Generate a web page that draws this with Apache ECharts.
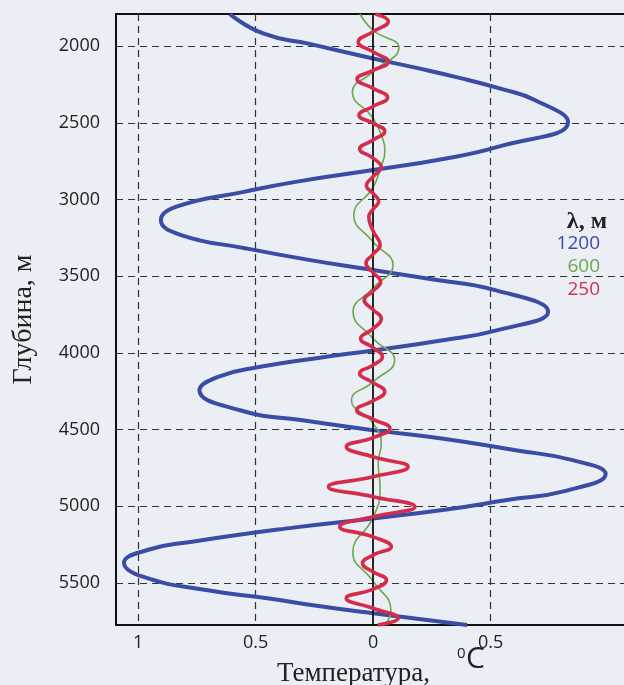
<!DOCTYPE html>
<html>
<head>
<meta charset="utf-8">
<script src="https://cdn.jsdelivr.net/npm/echarts@6/dist/echarts.min.js"></script>
<style>
  html, body { margin: 0; padding: 0; background: #eceef5; }
  #chart { width: 624px; height: 685px; }
</style>
</head>
<body>
<div id="chart"></div>
<script>
// Temperature anomaly vs depth for three wavelengths (λ, m)
const wavelengths = ['1200', '600', '250'];
const lineColors = ['#3a4ca3', '#6aa84a', '#d42d4c'];

// λ = 1200 m
const depth1200 = [1790, 1917, 1985, 2080, 2140, 2200, 2280, 2352, 2494, 2657, 2740, 2808,
  2885, 2950, 3048, 3134, 3230, 3319, 3392, 3460,
  3520, 3591, 3732, 3852, 3920, 3985,
  4030, 4091, 4156, 4243, 4373, 4440, 4504,
  4560, 4634, 4700, 4790, 4900, 4960, 5020, 5080,
  5140, 5232, 5286, 5370, 5460, 5547, 5601, 5650, 5699, 5775];
const temp1200 = [-0.61, -0.468, -0.27, 0, 0.18, 0.35, 0.55, 0.69, 0.83, 0.53, 0.28, 0,
  -0.33, -0.55, -0.84, -0.903, -0.82, -0.54, -0.28, 0,
  0.25, 0.52, 0.745, 0.53, 0.29, 0,
  -0.22, -0.48, -0.66, -0.739, -0.57, -0.3, 0,
  0.3, 0.6, 0.85, 0.99, 0.82, 0.57, 0.32, 0,
  -0.34, -0.77, -0.96, -1.06, -0.98, -0.71, -0.45, -0.24, 0, 0.4];

// λ = 600 m
const depth600 = [1790, 1896, 2010, 2167, 2300, 2470, 2600, 2690, 2780, 2920, 3102, 3276, 3428, 3578, 3732, 3906, 4047, 4189, 4308, 4460, 4590, 4720, 4880, 5075, 5300, 5490, 5680, 5775];
const temp600 = [-0.056, 0, 0.11, 0, -0.088, 0, 0.04, 0.05, 0.035, 0, -0.082, 0, 0.085, 0, -0.085, 0, 0.092, 0, -0.092, 0, 0.035, 0.022, 0.03, 0, -0.086, 0, 0.076, 0.05];

// λ = 250 m
const depth250 = [1790, 1838, 1905, 1972, 2037, 2102, 2158, 2215, 2275, 2335, 2393, 2450, 2503, 2555, 2612, 2670, 2730, 2790, 2850, 2910, 2960, 3012, 3063, 3113, 3205, 3297, 3356, 3415, 3476, 3537, 3597, 3656, 3718, 3778, 3842, 3906, 3966, 4026, 4080, 4134, 4194, 4254, 4313, 4373, 4433, 4493, 4553, 4613, 4678, 4743, 4808, 4873, 4938, 5004, 5069, 5134, 5200, 5265, 5319, 5373, 5428, 5482, 5541, 5601, 5666, 5731, 5775];
const temp250 = [0.01, 0.065, 0, -0.063, 0, 0.065, 0, -0.068, 0, 0.062, 0, -0.06, 0, 0.05, 0, -0.057, 0, 0.035, 0, -0.028, 0, 0.024, 0, -0.018, 0, 0.03, 0, -0.03, 0, 0.032, 0, -0.038, 0, 0.035, 0, -0.053, 0, 0.04, 0, -0.057, 0, 0.05, 0, -0.07, 0, 0.072, 0, -0.114, 0, 0.149, 0, -0.19, 0, 0.178, 0, -0.142, 0, 0.078, 0, -0.045, 0, 0.057, 0, -0.114, 0, 0.107, 0.02];

// Axis ticks
const tempTicks = [-1, -0.5, 0, 0.5];
const depthTicks = [2000, 2500, 3000, 3500, 4000, 4500, 5000, 5500];

const tempRange = [-1.094, 1.068];
const depthRange = [1790, 5775];

const zip = (d, t) => d.map((v, i) => [t[i], v]);
const curves = [zip(depth1200, temp1200), zip(depth600, temp600), zip(depth250, temp250)];
const widths = [4, 1.6, 3.6];

const dashed = { show: true, lineStyle: { color: '#333', width: 1.2, type: [7, 5] } };
const sans = 'Open Sans';
const serif = 'Liberation Serif';

const chart = echarts.init(document.getElementById('chart'), null, { renderer: 'canvas' });

const series = curves.map((data, i) => ({
  name: wavelengths[i],
  type: 'line',
  data: data,
  smooth: 0.5,
  showSymbol: false,
  symbol: 'none',
  clip: true,
  lineStyle: { color: lineColors[i], width: widths[i] },
  z: 3 + i
}));

// solid zero-temperature line
series.push({
  type: 'line',
  data: [],
  z: 10,
  markLine: {
    silent: true,
    symbol: 'none',
    label: { show: false },
    lineStyle: { color: '#111', width: 1.8, type: 'solid' },
    data: [{ xAxis: 0 }]
  }
});

const legendItems = [{
  type: 'text', right: 17, top: 210,
  style: { text: 'λ, м', font: 'bold 24px ' + serif, fill: '#222' }
}].concat(wavelengths.map((w, i) => ({
  type: 'text', right: 24, top: 234 + i * 23,
  style: { text: w, font: '19px ' + sans, fill: lineColors[i], textAlign: 'right' }
})));

chart.setOption({
  backgroundColor: '#eceef5',
  animation: false,
  grid: { left: 116, right: 0, top: 14, bottom: 60 },
  xAxis: [{
    type: 'value',
    min: tempRange[0], max: tempRange[1],
    position: 'bottom',
    axisLine: { show: true, onZero: false, lineStyle: { color: '#111', width: 2 } },
    axisTick: { show: false, customValues: tempTicks.filter(v => v !== 0) },
    axisLabel: {
      customValues: tempTicks,
      formatter: v => String(Math.abs(v)),
      color: '#222', fontFamily: sans, fontSize: 18, margin: 9
    },
    splitLine: dashed
  }, {
    type: 'value',
    min: tempRange[0], max: tempRange[1],
    position: 'top',
    axisLine: { show: true, onZero: false, lineStyle: { color: '#111', width: 2 } },
    axisTick: { show: false },
    axisLabel: { show: false },
    splitLine: { show: false }
  }],
  yAxis: {
    type: 'value',
    inverse: true,
    min: depthRange[0], max: depthRange[1],
    name: 'Глубина, м',
    nameLocation: 'middle',
    nameRotate: 90,
    nameGap: 78,
    nameTextStyle: { fontFamily: serif, fontSize: 28, color: '#222' },
    axisLine: { show: true, onZero: false, lineStyle: { color: '#111', width: 2 } },
    axisTick: { show: false, customValues: depthTicks },
    axisLabel: {
      customValues: depthTicks,
      formatter: v => String(v),
      color: '#222', fontFamily: sans, fontSize: 18, margin: 16
    },
    splitLine: dashed
  },
  series: series,
  graphic: legendItems.concat([
    { type: 'text', left: 277, top: 660,
      style: { text: 'Температура,', font: '27px ' + serif, fill: '#222' } },
    { type: 'text', left: 457, top: 646,
      style: { text: '0', font: '15px ' + sans, fill: '#222' } },
    { type: 'text', left: 466, top: 644,
      style: { text: 'C', font: '30px ' + sans, fill: '#222' } }
  ])
});
</script>
</body>
</html>
